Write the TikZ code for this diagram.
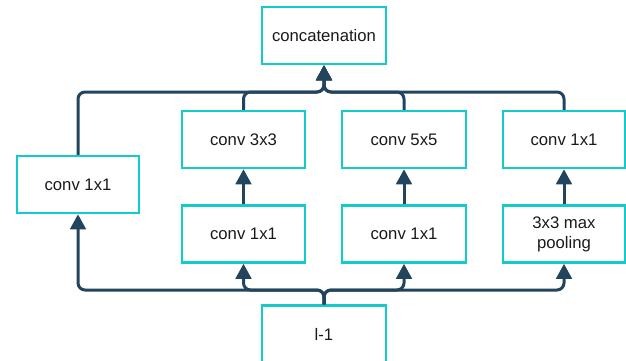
\documentclass[tikz,border=0pt]{standalone}
\usepackage{fontspec}
\setmainfont{Liberation Sans}
\usetikzlibrary{arrows.meta}
\definecolor{boxc}{HTML}{12CCCC}
\definecolor{linec}{HTML}{23445D}
\definecolor{txtc}{HTML}{1A1A1A}
\tikzset{
  box/.style={draw=boxc, line width=2.5pt, fill=white, minimum height=57pt, inner sep=0pt,
    text=txtc, align=center, font=\fontsize{16.7}{20}\selectfont},
  conn/.style={draw=linec, line width=3pt, rounded corners=7pt,
    -{Triangle[length=15pt,width=15.5pt]}}
}
\begin{document}
\begin{tikzpicture}[x=1pt,y=-1pt]
\useasboundingbox (0,0) rectangle (626,361);
\coordinate (tb) at (0,92);
\coordinate (bb) at (0,290);
\node[box, minimum width=124pt] (concat) at (324,35.5) {concatenation};
\node[box, minimum width=122pt] (c1l) at (78,184.5) {conv 1x1};
\node[box, minimum width=123pt] (c3) at (243.5,139.5) {conv 3x3};
\node[box, minimum width=124pt] (c5) at (404,139.5) {conv 5x5};
\node[box, minimum width=122pt] (c1r) at (564,139.5) {conv 1x1};
\node[box, minimum width=123pt] (b1) at (243.5,234) {conv 1x1};
\node[box, minimum width=124pt] (b2) at (404,234) {conv 1x1};
\node[box, minimum width=122pt] (pool) at (564,234) {3x3 max\\pooling};
\node[box, minimum width=124pt] (l1) at (324,334) {l-1};
% bottom bus
\draw[conn] (l1.north) -- (l1.north |- bb) -| (c1l.south);
\draw[conn] (l1.north) -- (l1.north |- bb) -| (b1.south);
\draw[conn] (l1.north) -- (l1.north |- bb) -| (b2.south);
\draw[conn] (l1.north) -- (l1.north |- bb) -| (pool.south);
% middle arrows
\draw[conn] (b1.north) -- (c3.south);
\draw[conn] (b2.north) -- (c5.south);
\draw[conn] (pool.north) -- (c1r.south);
% top bus
\draw[conn] (c1l.north) -- (c1l.north |- tb) -| (concat.south);
\draw[conn] (c3.north) -- (c3.north |- tb) -| (concat.south);
\draw[conn] (c5.north) -- (c5.north |- tb) -| (concat.south);
\draw[conn] (c1r.north) -- (c1r.north |- tb) -| (concat.south);
\end{tikzpicture}
\end{document}
